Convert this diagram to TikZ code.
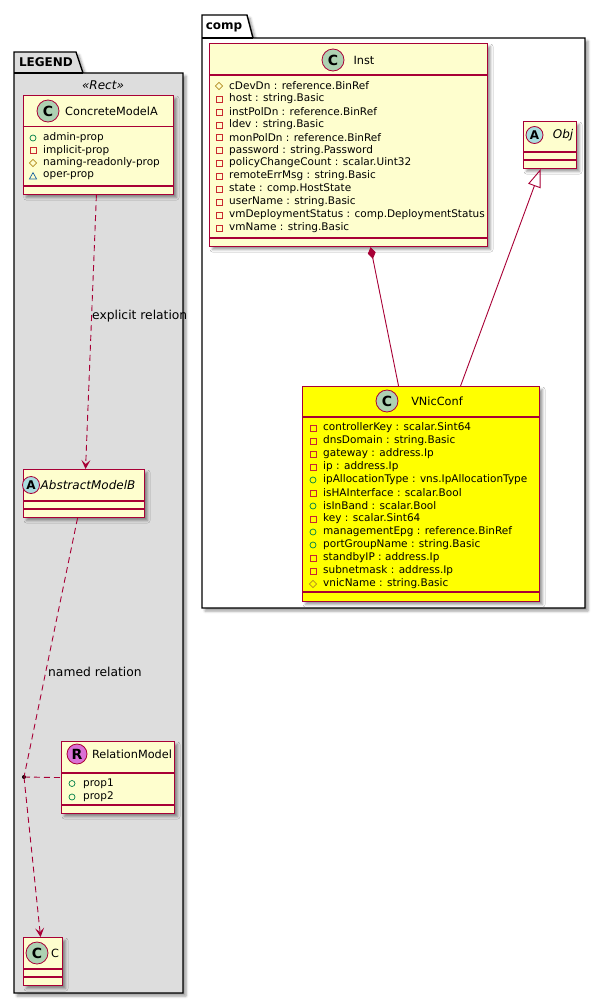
\documentclass[tikz,border=0pt]{standalone}
\usepackage{fontspec}
\setmainfont{DejaVu Sans}
\usetikzlibrary{arrows.meta,shadows.blur}
\definecolor{umlred}{HTML}{A80036}
\definecolor{clsfill}{HTML}{FEFECE}
\definecolor{cgreen}{HTML}{ADD1B2}
\definecolor{ablue}{HTML}{A9DCDF}
\definecolor{rpink}{HTML}{DA70D6}
\definecolor{legendgray}{HTML}{DDDDDD}
\definecolor{vyellow}{HTML}{FFFF00}
\definecolor{pubc}{HTML}{038048}
\definecolor{privc}{HTML}{C82930}
\definecolor{protc}{HTML}{B38D22}
\definecolor{pkgc}{HTML}{1963A0}
\tikzset{
  shad/.style={blur shadow={shadow xshift=3pt, shadow yshift=-3pt, shadow blur radius=2.5pt, shadow opacity=40}},
  classbox/.style={draw=umlred, line width=1.1pt, rectangle, inner sep=0pt, anchor=north west, shad},
  sepline/.style={draw=umlred, line width=1.1pt},
  hcirc/.style={circle, draw=umlred, line width=0.8pt, minimum size=22pt, inner sep=0pt, font=\bfseries\fontsize{14}{14}\selectfont},
  acirc/.style={hcirc, minimum size=17pt, font=\bfseries\fontsize{12}{12}\selectfont},
  ctitle/.style={inner sep=0pt, font=\fontsize{11.3}{13}\selectfont},
  ititle/.style={inner sep=0pt, font=\itshape\fontsize{12}{14}\selectfont},
  attrtext/.style={anchor=west, inner sep=0pt, font=\fontsize{10.5}{12}\selectfont},
  pkgbody/.style={draw=black, line width=1.4pt, shad},
  pkgtitle/.style={inner sep=0pt, font=\bfseries\fontsize{12}{14}\selectfont},
  conn/.style={draw=umlred, line width=0.9pt},
  depline/.style={conn, dash pattern=on 6pt off 4pt},
  deptip/.style={-{Stealth[length=9pt,width=9pt,inset=4pt]}},
  elabel/.style={anchor=west, inner sep=0pt, font=\fontsize{12.3}{14}\selectfont},
  dotnode/.style={circle, fill=black, inner sep=0pt, minimum size=4pt},
}
\newcommand\umlclass[6]{\node[classbox, fill=#6, minimum width=#4pt, minimum height=#5pt] (#1) at (#2,#3) {};}
\newcommand\sepat[2]{\draw[sepline] ([yshift=-#2pt]#1.north west) -- ([yshift=-#2pt]#1.north east);}
\newcommand\icopub{\draw[pubc, line width=0.7pt] (0,0) circle (3pt);}
\newcommand\icopriv{\draw[privc, line width=0.7pt] (-3,-3) rectangle (3,3);}
\newcommand\icoprot{\draw[protc, line width=0.7pt] (0,-3.6) -- (3.6,0) -- (0,3.6) -- (-3.6,0) -- cycle;}
\newcommand\icopkg{\draw[pkgc, line width=0.7pt] (0,-3.4) -- (3.6,3) -- (-3.6,3) -- cycle;}
\newcounter{attrn}
\newcommand\attr[5]{\begin{scope}[shift={(#2,#4)}]\csname ico#1\endcsname\end{scope}%
  \stepcounter{attrn}\node[attrtext] (attr\arabic{attrn}) at (#3,#4) {#5};}
\begin{document}
\begin{tikzpicture}[x=1pt,y=-1pt]
\useasboundingbox (0,0) rectangle (605,1004);
% packages
\draw[pkgbody, fill=legendgray] (14,73) -- (14,52) -- (76,52) -- (83,73) -- (183,73) -- (183,993) -- (14,993) -- cycle;
\draw[line width=1.2pt] (14,73) -- (83,73);
\node[pkgtitle] (legendlbl) at (46,62.5) {LEGEND};
\draw[pkgbody, fill=white] (202,38) -- (202,15) -- (247,15) -- (253,38) -- (585,38) -- (585,608) -- (202,608) -- cycle;
\draw[line width=1.2pt] (202,38) -- (253,38);
\node[pkgtitle] (complbl) at (224,27) {comp};
% classes
\umlclass{cma}{22.7}{95}{150.3}{99}{clsfill}
\umlclass{amb}{23}{469}{121}{48}{clsfill}
\umlclass{rm}{61}{741}{113}{72}{clsfill}
\umlclass{cc}{23}{937}{39}{48}{clsfill}
\umlclass{inst}{209}{43}{278}{203}{clsfill}
\umlclass{obj}{523}{121}{53}{47}{clsfill}
\umlclass{vnic}{302}{386}{237}{215}{vyellow}
% connectors
\draw[depline, deptip] ([xshift=-2pt]cma.south) -- ([xshift=1.5pt]amb.north);
\node[dotnode] (rdot) at (24,777) {};
\draw[depline] ([xshift=-6.5pt]amb.south) -- (rdot.center);
\draw[depline, deptip] (rdot.center) -- ([xshift=-2.5pt]cc.north);
\draw[depline] (rdot.center) -- (rm.west);
\draw[conn, {Diamond[length=12pt,width=8pt]}-] ([xshift=22pt]inst.south) -- ([xshift=-22.5pt]vnic.north);
\draw[conn, {Triangle[open,length=18pt,width=13pt]}-] ([xshift=-9.5pt]obj.south) -- ([xshift=39.5pt]vnic.north);
% ConcreteModelA
\node[ititle] (stereo) at (103,85) {«Rect»};
\sepat{cma}{31.7}
\sepat{cma}{91}
\node[hcirc, fill=cgreen] (cmac) at (48,111) {C};
\node[ctitle] (cmat) at (111.5,111) {ConcreteModelA};
\attr{pub}{33}{43}{138}{admin-prop}
\attr{priv}{33}{43}{150.5}{implicit-prop}
\attr{prot}{33}{43}{163}{naming-readonly-prop}
\attr{pkg}{33}{43}{176}{oper-prop}
% AbstractModelB
\sepat{amb}{32}
\sepat{amb}{40}
\node[acirc, fill=ablue] (ambc) at (31,485) {A};
\node[ititle] (ambt) at (88,485) {AbstractModelB};
% RelationModel
\sepat{rm}{32}
\sepat{rm}{64}
\node[hcirc, minimum size=20pt, fill=rpink] (rmc) at (77,754) {R};
\node[ctitle] (rmt) at (132,754) {RelationModel};
\attr{pub}{72}{83}{783.5}{prop1}
\attr{pub}{72}{83}{797}{prop2}
% C
\sepat{cc}{32}
\sepat{cc}{40}
\node[hcirc, fill=cgreen] (ccc) at (37,953) {C};
\node[ctitle] (cct) at (55,953) {C};
% Inst
\sepat{inst}{32}
\sepat{inst}{195}
\node[hcirc, fill=cgreen] (instc) at (333,60) {C};
\node[ctitle] (instt) at (364,60) {Inst};
\attr{prot}{219}{229}{86}{cDevDn : reference.BinRef}
\attr{priv}{219}{229}{99}{host : string.Basic}
\attr{priv}{219}{229}{112}{instPolDn : reference.BinRef}
\attr{priv}{219}{229}{125}{ldev : string.Basic}
\attr{priv}{219}{229}{137.5}{monPolDn : reference.BinRef}
\attr{priv}{219}{229}{150.5}{password : string.Password}
\attr{priv}{219}{229}{163}{policyChangeCount : scalar.Uint32}
\attr{priv}{219}{229}{176}{remoteErrMsg : string.Basic}
\attr{priv}{219}{229}{189}{state : comp.HostState}
\attr{priv}{219}{229}{202}{userName : string.Basic}
\attr{priv}{219}{229}{215}{vmDeploymentStatus : comp.DeploymentStatus}
\attr{priv}{219}{229}{228}{vmName : string.Basic}
% Obj
\sepat{obj}{31}
\sepat{obj}{39}
\node[acirc, fill=ablue] (objc) at (534.5,135) {A};
\node[ititle] (objt) at (563,135) {Obj};
% VNicConf
\sepat{vnic}{31}
\sepat{vnic}{206}
\node[hcirc, fill=cgreen] (vnicc) at (387,401) {C};
\node[ctitle] (vnict) at (437,401) {VNicConf};
\attr{priv}{313}{323}{428}{controllerKey : scalar.Sint64}
\attr{priv}{313}{323}{441}{dnsDomain : string.Basic}
\attr{priv}{313}{323}{454}{gateway : address.Ip}
\attr{priv}{313}{323}{467}{ip : address.Ip}
\attr{pub}{313}{323}{480}{ipAllocationType : vns.IpAllocationType}
\attr{priv}{313}{323}{493}{isHAInterface : scalar.Bool}
\attr{pub}{313}{323}{506}{isInBand : scalar.Bool}
\attr{priv}{313}{323}{519}{key : scalar.Sint64}
\attr{pub}{313}{323}{532}{managementEpg : reference.BinRef}
\attr{pub}{313}{323}{545}{portGroupName : string.Basic}
\attr{priv}{313}{323}{558}{standbyIP : address.Ip}
\attr{priv}{313}{323}{571}{subnetmask : address.Ip}
\attr{prot}{313}{323}{584}{vnicName : string.Basic}
% edge labels
\node[elabel] (lblexp) at (92,316) {explicit relation};
\node[elabel] (lblnamed) at (48,672) {named relation};
\end{tikzpicture}
\end{document}
